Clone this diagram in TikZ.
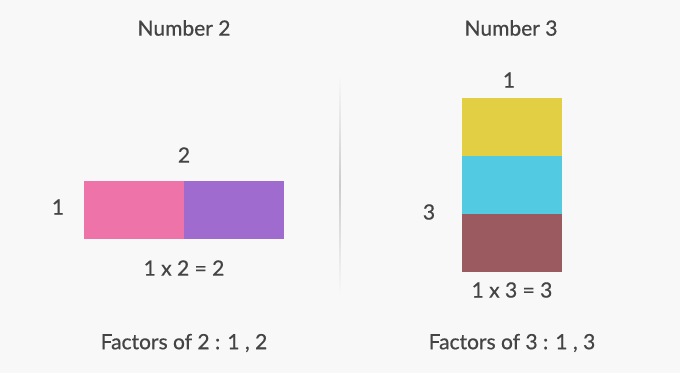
\documentclass[tikz,border=0pt]{standalone}
\usepackage{fontspec}
\setmainfont{Lato}[UprightFeatures={FakeBold=0.6}]
\definecolor{bg}{HTML}{F8F8F8}
\definecolor{txt}{HTML}{444444}
\definecolor{cpink}{HTML}{EE73A9}
\definecolor{cpurple}{HTML}{A06BCE}
\definecolor{cyellow}{HTML}{E2CF44}
\definecolor{ccyan}{HTML}{52CAE2}
\definecolor{cbrown}{HTML}{9A5A60}
\begin{document}
\begin{tikzpicture}[x=1pt,y=-1pt,
  lbl/.style={text=txt,font=\fontsize{21}{23}\selectfont,inner sep=0pt},
  cell/.style={inner sep=0pt,outer sep=0pt}]
\fill[bg] (0,0) rectangle (680,373);
\useasboundingbox (0,0) rectangle (680,373);
% divider
\shade[top color=bg,bottom color=bg,middle color=black!20] (339.2,75) rectangle (340.8,295);
% left
\node[lbl] (t2) at (184,28) {Number 2};
\fill[cpink] (84,181) rectangle (184,239);
\fill[cpurple] (184,181) rectangle (284,239);
\node[lbl] (w2) at (184,155) {2};
\node[lbl] (h2) at (58,207) {1};
\node[lbl] (e2) at (184,268) {1 x 2 = 2};
\node[lbl] (f2) at (184,343) {Factors of 2 : 1 , 2};
% right
\node[lbl] (t3) at (511,28) {Number 3};
\fill[cyellow] (462,98) rectangle (562,156);
\fill[ccyan] (462,156) rectangle (562,214);
\fill[cbrown] (462,214) rectangle (562,272);
\node[lbl] (w3) at (509,80) {1};
\node[lbl] (h3) at (429,212) {3};
\node[lbl] (e3) at (512,290) {1 x 3 = 3};
\node[lbl] (f3) at (512,343) {Factors of 3 : 1 , 3};
\end{tikzpicture}
\end{document}
